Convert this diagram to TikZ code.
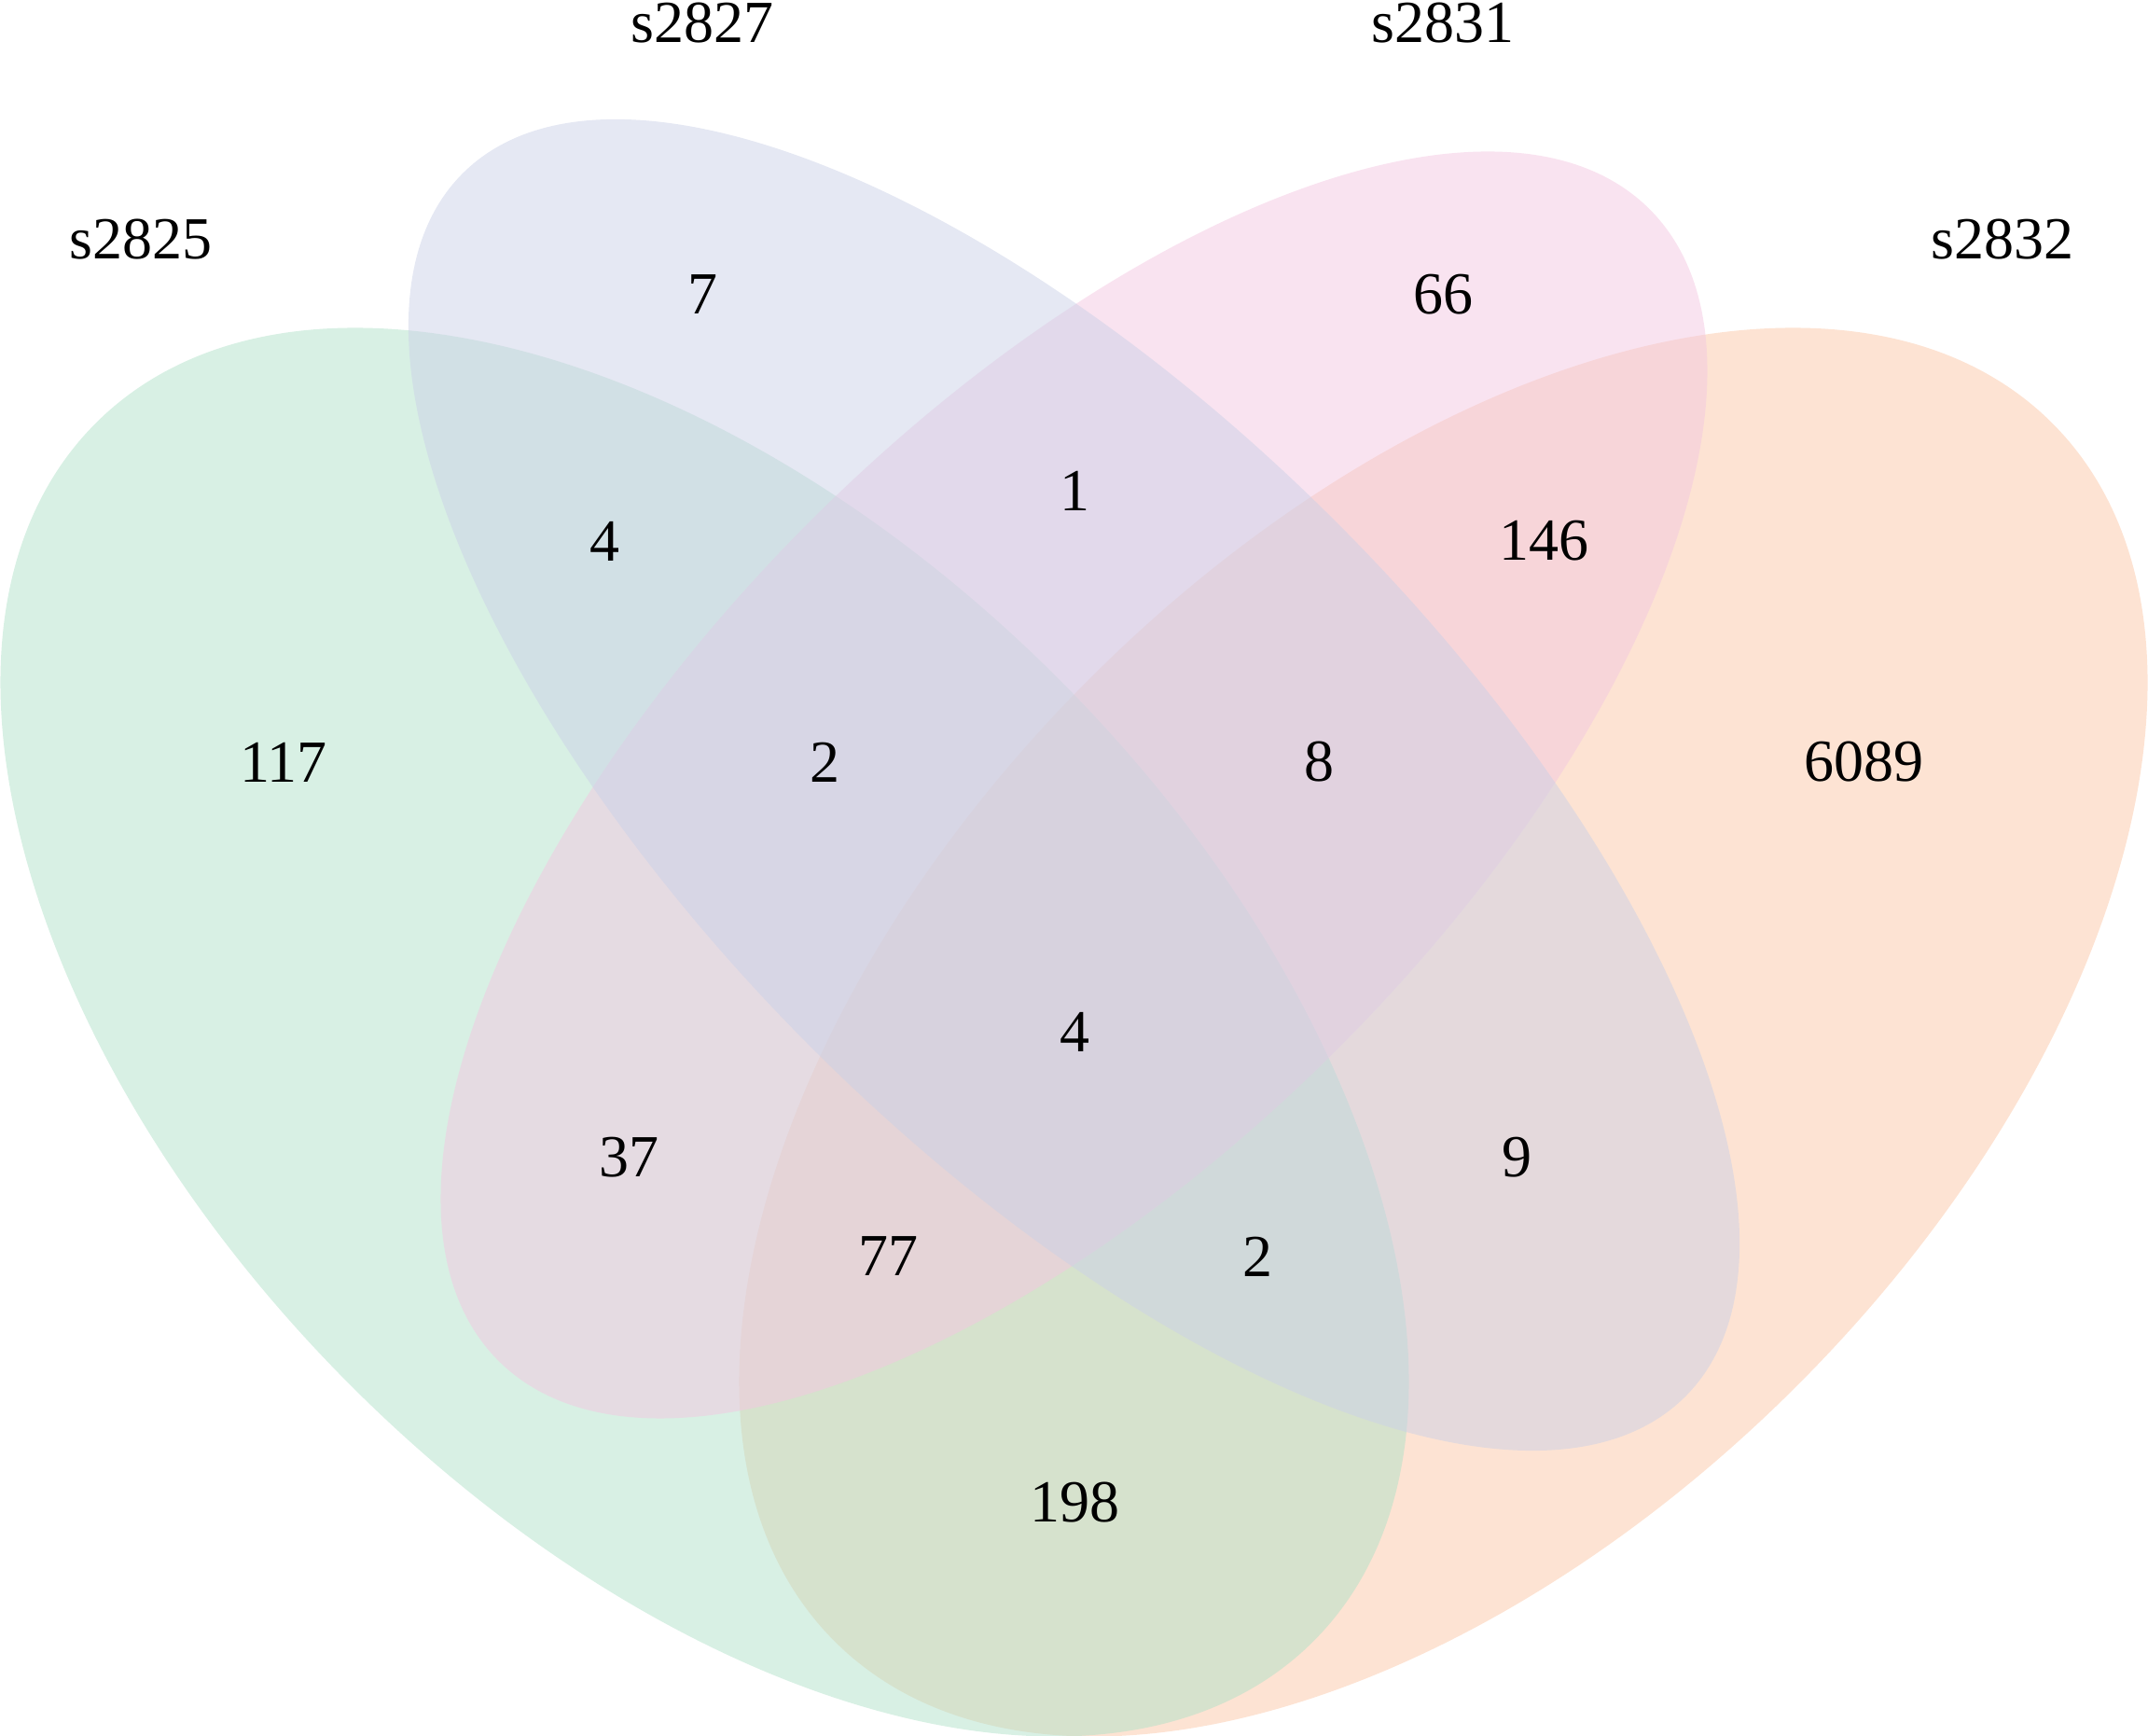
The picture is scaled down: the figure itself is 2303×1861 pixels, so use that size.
\documentclass[tikz,border=0pt]{standalone}
\usepackage{fontspec}
\setmainfont{Liberation Serif}
\definecolor{cGreen}{RGB}{177,225,201}
\definecolor{cLav}{RGB}{203,209,231}
\definecolor{cPink}{RGB}{243,199,225}
\definecolor{cOrange}{RGB}{251,199,167}
\tikzset{
  setfill/.style={fill=#1, fill opacity=0.5},
  lab/.style={font=\fontsize{18.2pt}{20pt}\selectfont, inner sep=0pt, text=black}
}
\begin{document}
\begin{tikzpicture}[x=0.01cm,y=0.01cm]
\useasboundingbox (0,0) rectangle (2303,1861);
% ellipses (math coords: y up)
\fill[setfill=cOrange, rotate around={45:(1547.5,754.5)}] (1547.5,754.5) ellipse [x radius=9.227cm, y radius=5.358cm];
\fill[setfill=cGreen, rotate around={-45:(755.5,754.5)}] (755.5,754.5) ellipse [x radius=9.227cm, y radius=5.358cm];
\fill[setfill=cPink, rotate around={45:(1151.5,1019.5)}] (1151.5,1019.5) ellipse [x radius=8.723cm, y radius=3.997cm];
\fill[setfill=cLav, rotate around={-45:(1151.5,1019.5)}] (1151.5,1019.5) ellipse [x radius=9.265cm, y radius=3.979cm];
% set labels
\node[lab] (nA) at (151,1604) {s2825};
\node[lab] (nB) at (753,1836) {s2827};
\node[lab] (nC) at (1547,1836) {s2831};
\node[lab] (nD) at (2147,1604) {s2832};
% counts
\node[lab] (r7) at (753,1545) {7};
\node[lab] (r66) at (1547,1545) {66};
\node[lab] (r4a) at (648,1281) {4};
\node[lab] (r1) at (1152,1335) {1};
\node[lab] (r146) at (1655,1281) {146};
\node[lab] (r117) at (304,1044) {117};
\node[lab] (r2a) at (884,1044) {2};
\node[lab] (r8) at (1414,1044) {8};
\node[lab] (r6089) at (1998,1044) {6089};
\node[lab] (r4b) at (1152,755) {4};
\node[lab] (r37) at (674,620) {37};
\node[lab] (r9) at (1626,620) {9};
\node[lab] (r77) at (952,514) {77};
\node[lab] (r2b) at (1348,514) {2};
\node[lab] (r198) at (1152,250) {198};
\end{tikzpicture}
\end{document}
